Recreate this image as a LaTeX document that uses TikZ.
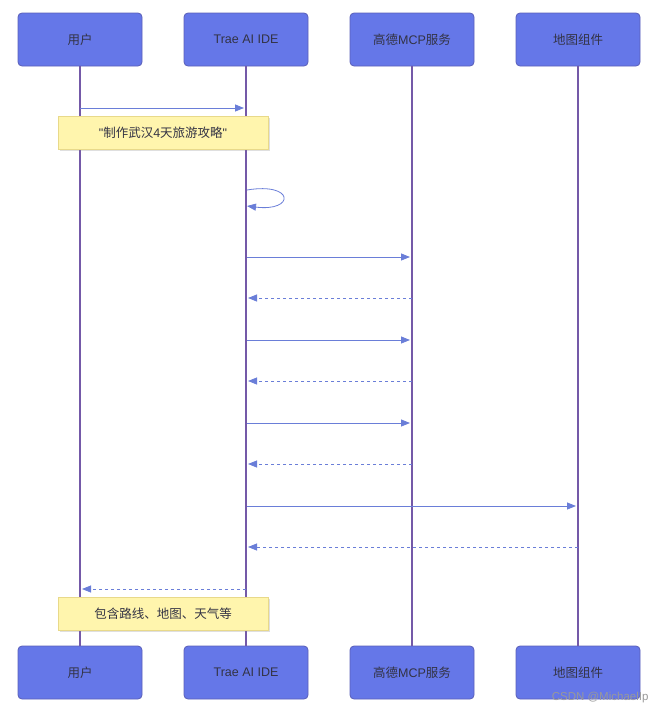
\documentclass[tikz,border=0pt]{standalone}
\usepackage{fontspec}
\setmainfont{Noto Sans CJK SC}
\newfontfamily\latinfont{Liberation Sans}
\usetikzlibrary{arrows.meta,shadows}
\definecolor{boxfill}{HTML}{6577E8}
\definecolor{boxdraw}{HTML}{5A5FB8}
\definecolor{lifeline}{HTML}{7459A8}
\definecolor{msg}{HTML}{6A7ED8}
\definecolor{notefill}{HTML}{FFF5AD}
\definecolor{notedraw}{HTML}{E8D98A}
\definecolor{txt}{HTML}{333344}
\tikzset{
  actor/.style={draw=boxdraw, fill=boxfill, rounded corners=4pt, minimum width=124pt, minimum height=53pt, inner sep=0pt, text=txt, font=\fontsize{12.5}{14}\selectfont, line width=0.8pt},
  life/.style={draw=lifeline, line width=1.4pt},
  solidmsg/.style={draw=msg, line width=0.8pt, -{Triangle[length=9pt,width=7pt]}},
  dashmsg/.style={draw=msg, line width=0.8pt, dash pattern=on 3pt off 3pt, -{Triangle[length=9pt,width=7pt]}},
  notebox/.style={draw=notedraw, fill=notefill, minimum width=210pt, minimum height=33pt, inner sep=0pt, text=txt, font=\fontsize{12.5}{14}\selectfont, drop shadow={shadow xshift=1.5pt, shadow yshift=-1.5pt, opacity=0.25}},
}
\begin{document}
\begin{tikzpicture}[x=1pt,y=-1pt]
\useasboundingbox (0,0) rectangle (662,712);
% top actors
\node[actor] (u1) at (80,39.5) {用户};
\node[actor] (t1) at (246,39.5) {{\latinfont Trae AI IDE}};
\node[actor] (g1) at (412,39.5) {高德{\latinfont MCP}服务};
\node[actor] (m1) at (578,39.5) {地图组件};
% bottom actors
\node[actor] (u2) at (80,672.5) {用户};
\node[actor] (t2) at (246,672.5) {{\latinfont Trae AI IDE}};
\node[actor] (g2) at (412,672.5) {高德{\latinfont MCP}服务};
\node[actor] (m2) at (578,672.5) {地图组件};
% lifelines
\draw[life] (u1.south) -- (u2.north);
\draw[life] (t1.south) -- (t2.north);
\draw[life] (g1.south) -- (g2.north);
\draw[life] (m1.south) -- (m2.north);
% messages
\draw[solidmsg] (80,108) -- (244,108);
\node[notebox] (n1) at (163,132.5) {{\latinfont\char"22}制作武汉{\latinfont 4}天旅游攻略{\latinfont\char"22}};
\coordinate (loopA) at (247,190);
\coordinate (loopB) at (247,206);
\draw[solidmsg] (loopA) .. controls (295,182) and (295,212) .. (loopB);
\draw[solidmsg] (247,257) -- (410,257);
\draw[dashmsg] (412,298) -- (248,298);
\draw[solidmsg] (247,340) -- (410,340);
\draw[dashmsg] (412,381) -- (248,381);
\draw[solidmsg] (247,423) -- (410,423);
\draw[dashmsg] (412,464) -- (248,464);
\draw[solidmsg] (247,506) -- (576,506);
\draw[dashmsg] (578,547) -- (248,547);
\draw[dashmsg] (246,589) -- (82,589);
\node[notebox] (n2) at (163,614) {包含路线、地图、天气等};
% watermark
\node[text=black!40, font=\latinfont\fontsize{11.5}{12}\selectfont, anchor=east] (wm) at (652,698) {CSDN @MichaelIp};
\end{tikzpicture}
\end{document}
